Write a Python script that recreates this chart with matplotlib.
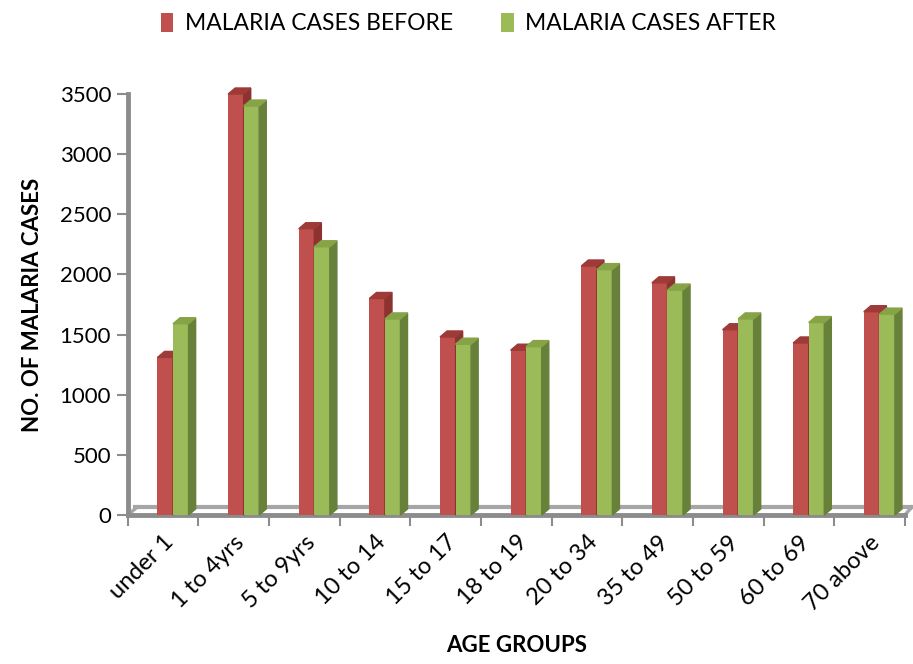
import matplotlib.pyplot as plt
from matplotlib.patches import Polygon
import numpy as np

# data
age_groups = ["under 1", "1 to 4yrs", "5 to 9yrs", "10 to 14", "15 to 17", "18 to 19",
              "20 to 34", "35 to 49", "50 to 59", "60 to 69", "70 above"]
cases_before = [1310, 3500, 2380, 1800, 1480, 1370, 2070, 1930, 1540, 1430, 1690]
cases_after = [1590, 3400, 2230, 1630, 1420, 1400, 2040, 1870, 1630, 1600, 1670]

red, red_side, red_top = "#C0504D", "#8C3331", "#9E3A37"
green, green_side, green_top = "#9BBB59", "#67803A", "#86A346"
axis_grey = "#8C8C8C"

plt.rcParams['font.family'] = ['Lato', 'DejaVu Sans']

fig = plt.figure(figsize=(9.13, 6.64), dpi=100)
ax = fig.add_axes([0.140, 0.2244, 0.851, 0.634])

x = np.arange(len(age_groups))
w = 0.22
dx, dy = 0.10, 50  # fake 3d depth (data units)


def bar3d(xs, vals, face, side, top, z):
    bars = ax.bar(xs, vals, width=w, align="edge", color=face, edgecolor="none", zorder=z)
    for b in bars:
        x0, h = b.get_x(), b.get_height()
        x1 = x0 + b.get_width()
        ax.add_patch(Polygon([(x1, 0), (x1 + dx, dy), (x1 + dx, h + dy), (x1, h)],
                             closed=True, color=side, zorder=z, clip_on=False))
        ax.add_patch(Polygon([(x0, h), (x0 + dx, h + dy), (x1 + dx, h + dy), (x1, h)],
                             closed=True, color=top, zorder=z, clip_on=False))
    return bars


# floor (back edge + sides)
n = len(age_groups)
ax.plot([dx, n + dx], [dy * 1.3, dy * 1.3], color="#A6A6A6", lw=3, zorder=1, clip_on=False)
ax.plot([0, dx * 1.3], [0, dy * 1.3], color="#A6A6A6", lw=2.5, zorder=1, clip_on=False)
ax.plot([n, n + dx], [0, dy * 1.3], color="#A6A6A6", lw=2.5, zorder=1, clip_on=False)

# red behind, green in front (green covers red's side face)
b_before = bar3d(x + 0.42, cases_before, red, red_side, red_top, 3)
b_after = bar3d(x + 0.64, cases_after, green, green_side, green_top, 4)

ax.set_xlim(0, n)
ax.set_ylim(0, 3500)
ax.set_yticks(range(0, 3501, 500))
ax.tick_params(axis="y", labelsize=16, length=8, width=1.5, color=axis_grey, pad=4)
ax.set_xticks(x + 0.5)
ax.set_xticklabels(age_groups, rotation=45, ha="right", rotation_mode="anchor", fontsize=17)
ax.tick_params(axis="x", length=0, pad=12)
ax.set_xticks(np.arange(n + 1), minor=True)
ax.tick_params(axis="x", which="minor", length=8, width=1.5, color=axis_grey)

for s in ["top", "right"]:
    ax.spines[s].set_visible(False)
for s in ["left", "bottom"]:
    ax.spines[s].set_color(axis_grey)
    ax.spines[s].set_linewidth(3.5)

ax.set_ylabel("NO. OF MALARIA CASES", fontsize=16, fontweight="bold", labelpad=12)
ax.set_xlabel("AGE GROUPS", fontsize=16, fontweight="bold", labelpad=15)

fig.legend([b_before, b_after], ["MALARIA CASES BEFORE", "MALARIA CASES AFTER"],
           loc="upper center", bbox_to_anchor=(0.513, 1.012), ncol=2, frameon=False,
           fontsize=16.5, handlelength=0.55, handleheight=0.9, handletextpad=0.5,
           columnspacing=2.1)

fig.savefig("out.png", dpi=100)
